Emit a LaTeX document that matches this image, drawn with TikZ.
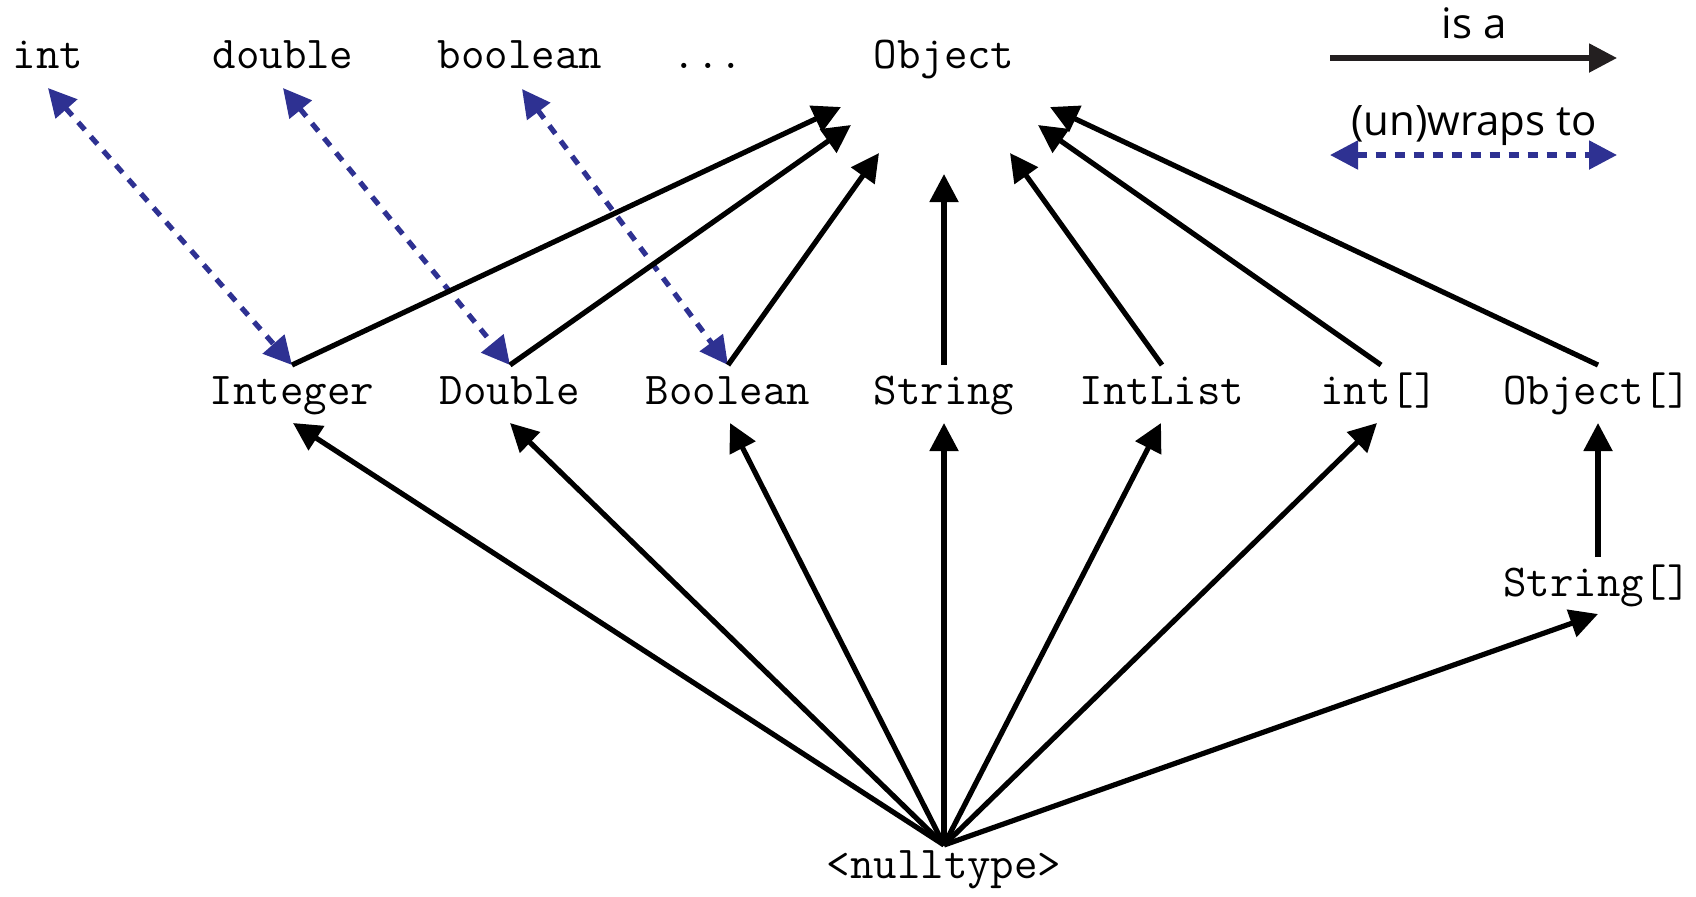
\documentclass[tikz,border=0pt]{standalone}
\usepackage{fontspec}
\newfontfamily\legendfont{Open Sans}
\usetikzlibrary{arrows.meta}
\definecolor{wrapblue}{RGB}{46,49,146}
\definecolor{isablack}{RGB}{35,31,32}
\begin{document}
\begin{tikzpicture}[x=0.5pt,y=-0.5pt,
  type/.style={font=\fontsize{22.8}{27}\selectfont\ttfamily, inner sep=0pt, anchor=base},
  legendtext/.style={font=\fontsize{21}{24}\selectfont\legendfont, inner sep=0pt, anchor=base},
  isa/.style={line width=2.6pt, -{Triangle[length=14pt,width=14pt]}},
  wrap/.style={wrapblue, line width=2.6pt, dash pattern=on 5pt off 4.5pt,
    {Triangle[length=14pt,width=14pt]}-{Triangle[length=14pt,width=14pt]}}]
\useasboundingbox (0,0) rectangle (1696,896);

% primitive types and the root class
\node[type] (int)     at (48,68)  {int};
\node[type] (double)  at (283,68) {double};
\node[type] (boolean) at (520,68) {boolean};
\node[type] (dots)    at (708,68) {...};
\node[type] (Object)  at (944,68) {Object};

% reference types
\node[type] (Integer)  at (292,404)  {Integer};
\node[type] (Double)   at (510,404)  {Double};
\node[type] (Boolean)  at (728,404)  {Boolean};
\node[type] (String)   at (944,404)  {String};
\node[type] (IntList)  at (1162,404) {IntList};
\node[type] (intarr)   at (1379,404) {int[]};
\node[type] (Objarr)   at (1597,404) {Object[]};
\node[type] (Strarr)   at (1597,596) {String[]};
\node[type] (null)     at (944,878)  {<nulltype>};

% connector end points around the labels
\coordinate (int-d)     at (48,88);
\coordinate (double-d)  at (283,88);
\coordinate (boolean-d) at (522,89);

\coordinate (Object-1) at (841,107);
\coordinate (Object-2) at (851,125);
\coordinate (Object-3) at (879,153);
\coordinate (Object-4) at (944,174);
\coordinate (Object-5) at (1010,153);
\coordinate (Object-6) at (1038,125);
\coordinate (Object-7) at (1050,107);

\coordinate (Integer-u) at (292,365);
\coordinate (Double-u)  at (510,365);
\coordinate (Boolean-u) at (728,365);
\coordinate (String-u)  at (944,365);
\coordinate (IntList-u) at (1162,365);
\coordinate (intarr-u)  at (1381,365);
\coordinate (Objarr-u)  at (1598,365);

\coordinate (Integer-d) at (293,423);
\coordinate (Double-d)  at (510,423);
\coordinate (Boolean-d) at (730,423);
\coordinate (String-d)  at (944,423);
\coordinate (IntList-d) at (1161,423);
\coordinate (intarr-d)  at (1377,423);
\coordinate (Objarr-d)  at (1598,423);
\coordinate (Strarr-u)  at (1598,557);
\coordinate (Strarr-d)  at (1598,614);
\coordinate (null-u)    at (944,845);

% boxing / unboxing
\draw[wrap] (int-d) -- (Integer-u);
\draw[wrap] (double-d) -- (Double-u);
\draw[wrap] (boolean-d) -- (Boolean-u);

% subtype edges into Object
\draw[isa] (Integer-u) -- (Object-1);
\draw[isa] (Double-u)  -- (Object-2);
\draw[isa] (Boolean-u) -- (Object-3);
\draw[isa] (String-u)  -- (Object-4);
\draw[isa] (IntList-u) -- (Object-5);
\draw[isa] (intarr-u)  -- (Object-6);
\draw[isa] (Objarr-u)  -- (Object-7);

% array covariance
\draw[isa] (Strarr-u) -- (Objarr-d);

% the null type is below every reference type
\foreach \t in {Integer,Double,Boolean,String,IntList,intarr,Strarr}
  \draw[isa] (null-u) -- (\t-d);

% legend
\node[legendtext] (isalabel)  at (1474,38)  {is a};
\node[legendtext] (wraplabel) at (1474,135) {(un)wraps to};
\coordinate (isa-l) at (1330,58);
\coordinate (isa-r) at (1617,58);
\coordinate (wrap-l) at (1330,155);
\coordinate (wrap-r) at (1617,155);
\draw[isa, isablack] (isa-l) -- (isa-r);
\draw[wrap] (wrap-l) -- (wrap-r);
\end{tikzpicture}
\end{document}
